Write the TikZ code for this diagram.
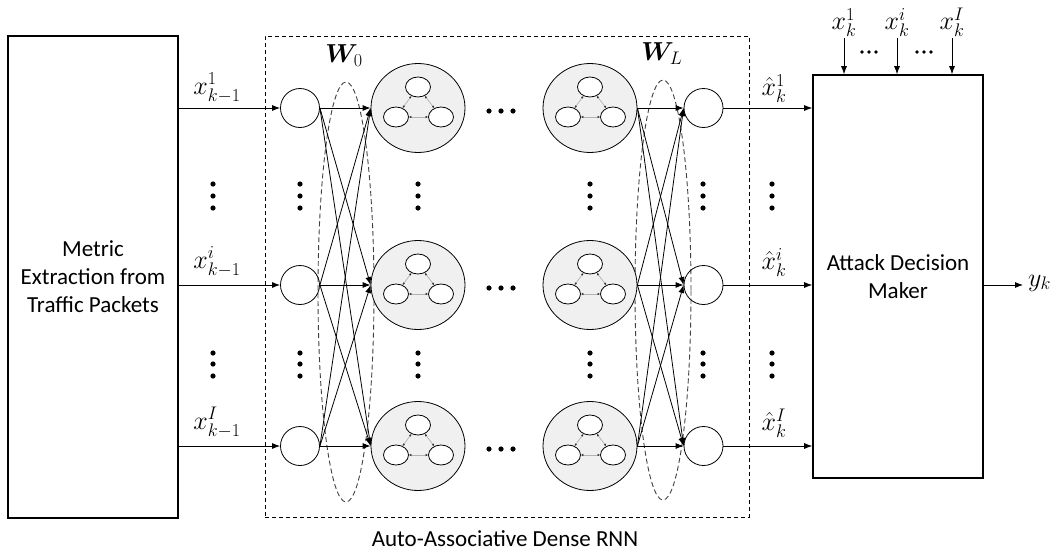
\RequirePackage{fix-cm}
\documentclass[tikz,border=0pt]{standalone}
\usepackage{amsmath,bm}
\usepackage{fontspec}
\setmainfont{Carlito}
\usetikzlibrary{arrows.meta,shapes.geometric,calc}

\begin{document}
\begin{tikzpicture}[x=1pt,y=-1pt,
  font=\fontsize{23}{28}\selectfont,
  block/.style={draw,line width=1.6pt,inner sep=0pt,align=center},
  frame/.style={draw,dashed,dash pattern=on 4pt off 3pt,line width=0.8pt,inner sep=0pt},
  neuron/.style={circle,draw,line width=0.8pt,minimum size=39pt,inner sep=0pt},
  cell/.style={ellipse,draw,line width=0.8pt,fill=gray!12,minimum width=94pt,minimum height=89pt,inner sep=0pt},
  sub/.style={ellipse,draw,line width=0.8pt,fill=white,minimum width=25pt,minimum height=20pt,inner sep=0pt},
  link/.style={draw=gray!60,line width=0.7pt,
    {Latex[length=2.5pt,width=2.5pt,color=black!80]}-{Latex[length=2.5pt,width=2.5pt,color=black!80]}},
  conn/.style={line width=0.8pt,-{Latex[length=8pt,width=6pt]}},
  group/.style={draw=black!75,dashed,dash pattern=on 5pt off 3pt,line width=0.9pt},
  lbl/.style={inner sep=1pt,font=\fontsize{26}{30}\selectfont},
  bigdot/.style={fill=black},
]
\useasboundingbox (0,0) rectangle (1060,557);

% main blocks
\node[block,minimum width=170pt,minimum height=482pt] (lbox) at (93,277)
  {Metric\\Extraction from\\Traffic Packets};
\node[block,minimum width=170pt,minimum height=403pt] (rbox) at (898,276.5)
  {Attack Decision\\Maker};
\node[frame,minimum width=484pt,minimum height=481pt] (rnn) at (507,276.5) {};
\node (cap) at (505,539) {Auto-Associative Dense RNN};

% weight groups
\node[group,ellipse,minimum width=56pt,minimum height=420pt,inner sep=0pt] (w0) at (346,292) {};
\node[group,ellipse,minimum width=56pt,minimum height=420pt,inner sep=0pt] (wl) at (663,290) {};
\node[lbl] (w0lbl) at (344,56) {$\bm{W}_0$};
\node[lbl] (wllbl) at (662,54) {$\bm{W}_L$};

% neurons and recurrent cells
\foreach \r/\y in {1/108,2/285,3/446} {
  \node[neuron] (in\r) at (300,\y) {};
  \node[cell] (c\r) at (418,\y) {};
  \node[cell] (d\r) at (590,\y) {};
  \node[neuron] (out\r) at (703.5,\y) {};
}

% inner structure of each cell
\foreach \n in {c1,c2,c3,d1,d2,d3} {
  \node[sub] (\n-t) at ($(\n)+(0,-21)$) {};
  \node[sub] (\n-l) at ($(\n)+(-22,9)$) {};
  \node[sub] (\n-r) at ($(\n)+(23,9)$) {};
  \draw[link] (\n-t) -- (\n-l);
  \draw[link] (\n-l) -- (\n-r);
  \draw[link] (\n-r) -- (\n-t);
}

% dense connections
\foreach \i in {1,2,3} {
  \foreach \j in {1,2,3} {
    \draw[conn] (in\i.east) -- (c\j.west);
    \draw[conn] (d\i.east) -- (out\j.west);
  }
}

% inputs and outputs of the network
\draw[conn] (in1 -| lbox.east) -- (in1.west);
\draw[conn] (in2 -| lbox.east) -- (in2.west);
\draw[conn] (in3 -| lbox.east) -- (in3.west);
\node[lbl,anchor=south] (xin1) at (217,104) {$x_{k-1}^{1}$};
\node[lbl,anchor=south] (xin2) at (217,278) {$x_{k-1}^{i}$};
\node[lbl,anchor=south] (xin3) at (217,439) {$x_{k-1}^{I}$};

\draw[conn] (out1.east) -- (out1 -| rbox.west);
\draw[conn] (out2.east) -- (out2 -| rbox.west);
\draw[conn] (out3.east) -- (out3 -| rbox.west);
\node[lbl,anchor=south] (xh1) at (774,104) {$\hat{x}_{k}^{1}$};
\node[lbl,anchor=south] (xh2) at (774,278) {$\hat{x}_{k}^{i}$};
\node[lbl,anchor=south] (xh3) at (774,439) {$\hat{x}_{k}^{I}$};

% current measurements into the decision maker
\node[lbl,anchor=south] (t1) at (844,38) {$x_{k}^{1}$};
\node[lbl,anchor=south] (t2) at (897,38) {$x_{k}^{i}$};
\node[lbl,anchor=south] (t3) at (952,38) {$x_{k}^{I}$};
\draw[conn] (t1.south) -- (t1.south |- rbox.north);
\draw[conn] (t2.south) -- (t2.south |- rbox.north);
\draw[conn] (t3.south) -- (t3.south |- rbox.north);
\foreach \x in {862,869,876,917,924,931} \fill (\x,52) circle (1.8);

% decision output
\coordinate (yend) at (1023,285);
\draw[conn] (rbox.east |- yend) -- (yend);
\node[lbl,anchor=west] (yk) at (1027,283) {$y_k$};

% vertical ellipsis dots
\foreach \x in {213,300,418,590,703,772} {
  \foreach \y in {184,196,208,353,364,376} \fill[bigdot] (\x,\y) circle (2.6);
}
% horizontal ellipsis dots
\foreach \y in {111,288,449} {
  \foreach \x in {489,501,513} \fill[bigdot] (\x,\y) circle (2.6);
}
\end{tikzpicture}
\end{document}
